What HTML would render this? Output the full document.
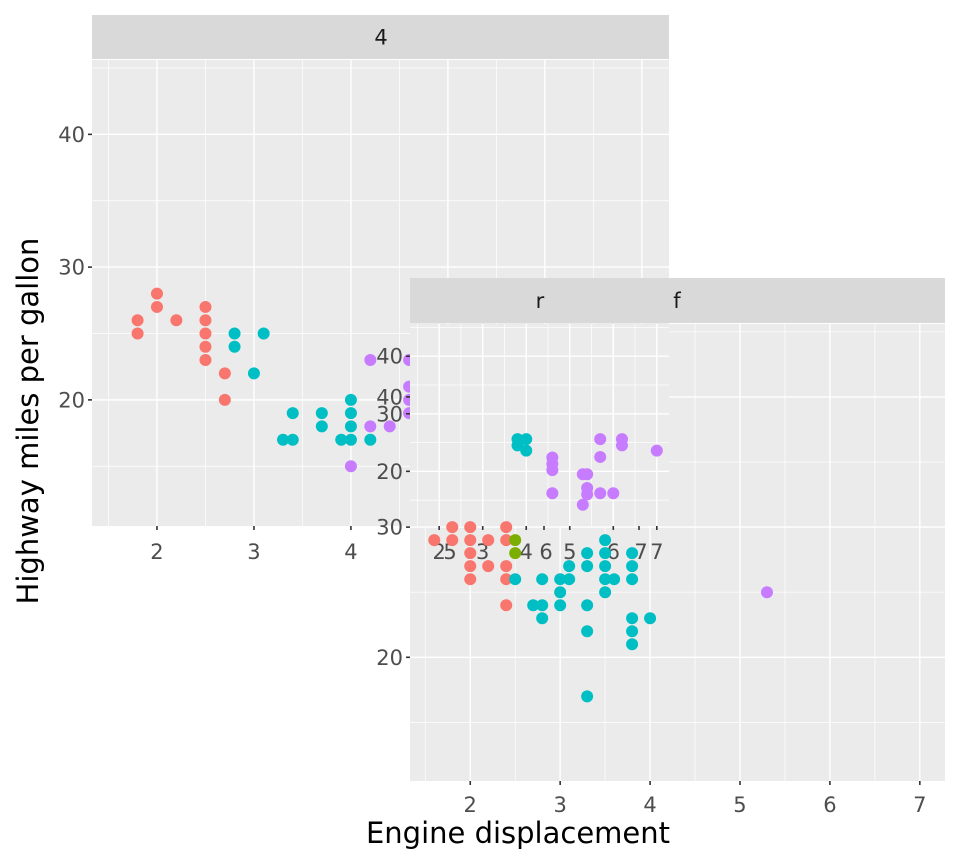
<!DOCTYPE html>
<html><head><meta charset="utf-8"><style>
html,body{margin:0;padding:0;background:#fff;}
svg{display:block;font-family:"DejaVu Sans","Liberation Sans",sans-serif;}
</style></head><body>
<svg id="chart" width="960" height="865" viewBox="0 0 960 865"></svg>
<script>
// ---- data ----
const colors = {r:"#F8766D", g:"#7CAE00", c:"#00BFC4", p:"#C77CFF"};
// panel "4"
const panel4Disp = [1.8,1.8,2.0,2.0,2.2,2.5,2.5,2.5,2.5,2.5,2.7,2.7, 2.8,2.8,3.1,3.0,3.4,3.3,3.4,3.7,3.7,3.9,4.0,4.0,4.0,4.0,4.2, 4.2,4.0,4.2,4.4,4.6,4.6,4.6,4.6];
const panel4Hwy  = [26,25,28,27,26,27,26,25,24,23,22,20, 25,24,25,22,19,17,17,19,18,17,20,19,18,17,17, 23,15,18,18,23,21,20,19];
const panel4Cls  = ["r","r","r","r","r","r","r","r","r","r","r","r","c","c","c","c","c","c","c","c","c","c","c","c","c","c","c","p","p","p","p","p","p","p","p"];
// panel "r"
const panelRDisp = [3.8,4.0,3.8,4.0, 4.6,4.6,4.6,4.6,5.3,5.4,5.4,5.4,5.3,5.7,5.7,5.7,6.0,6.2,6.2,7.0];
const panelRHwy  = [25.6,25.6,24.5,23.6, 22.4,21.3,20.2,16.2,19.5,19.5,17.1,16,14.2,25.6,22.5,16.2,16.2,25.6,24.5,23.6];
const panelRCls  = ["c","c","c","c","p","p","p","p","p","p","p","p","p","p","p","p","p","p","p","p"];
// panel "f"
const panelFDisp = [1.6,1.8,1.8,2.0,2.0,2.0,2.0,2.0,2.2,2.2,2.4,2.4,2.4,2.4,2.4, 2.5,2.5,
  2.5,2.8,2.7,2.8,2.8,3.0,3.1,3.0,3.0,3.1,3.3,3.3,3.3,3.3,3.3,3.5,3.5,3.5,3.5,3.5,3.6,3.8,3.8,3.8,3.8,3.8,3.8,4.0, 5.3];
const panelFHwy  = [29,29,30,30,29,28,27,26,29,27,30,29,27,26,24, 29,28,
  26,26,24,24,23,26,26,25,24,27,28,27,24,22,17,29,28,27,26,25,26,28,27,26,23,22,21,23, 25];
const panelFCls  = ["r","r","r","r","r","r","r","r","r","r","r","r","r","r","r","g","g",
  "c","c","c","c","c","c","c","c","c","c","c","c","c","c","c","c","c","c","c","c","c","c","c","c","c","c","c","c","p"];
const xTicks = [2,3,4,5,6,7];
const xMinor = [1.5,2.5,3.5,4.5,5.5,6.5];
const yTicks = [20,30,40];
const yMinor = [15,25,35,45];
const xDomain = [1.33,7.28], yDomain = [10.5,45.6];

const NS="http://www.w3.org/2000/svg";
const svg=document.getElementById('chart');
function mk(tag,attrs,parent,text){const e=document.createElementNS(NS,tag);for(const k in attrs)e.setAttribute(k,attrs[k]);if(text!==undefined)e.textContent=text;(parent||svg).appendChild(e);return e;}

function panelBg(name,x0,y0,x1,y1,withGrid){
  const g=mk('g',{});
  
  
  mk('rect',{x:x0,y:y0,width:x1-x0,height:y1-y0,fill:'#ebebeb'},g);
  const sx=v=>x0+(v-xDomain[0])/(xDomain[1]-xDomain[0])*(x1-x0);
  const sy=v=>y1-(v-yDomain[0])/(yDomain[1]-yDomain[0])*(y1-y0);
  if(withGrid){
    xMinor.forEach(v=>mk('line',{x1:sx(v),x2:sx(v),y1:y0,y2:y1,stroke:'#fff','stroke-width':0.7},g));
    yMinor.forEach(v=>{const y=sy(v);if(y>y0&&y<y1)mk('line',{x1:x0,x2:x1,y1:y,y2:y,stroke:'#fff','stroke-width':0.7},g);});
    xTicks.forEach(v=>mk('line',{x1:sx(v),x2:sx(v),y1:y0,y2:y1,stroke:'#fff','stroke-width':1.4},g));
    yTicks.forEach(v=>mk('line',{x1:x0,x2:x1,y1:sy(v),y2:sy(v),stroke:'#fff','stroke-width':1.4},g));
  }
  return {sx,sy};
}
function points(name,s,xs,ys,cls){
  const g=mk('g',{});
  
  
  xs.forEach((v,i)=>{const c=mk('circle',{cx:s.sx(v),cy:s.sy(ys[i]),r:6,fill:colors[cls[i]]},g);
    
    });
}
function axes(name,s,x0,y0,x1,y1,xoff){
  const g=mk('g',{});
  
  
  yTicks.forEach(v=>{const y=s.sy(v);
    mk('line',{x1:x0-4,x2:x0,y1:y,y2:y,stroke:'#333','stroke-width':1.6},g);
    mk('text',{x:x0-7,y:y+7.5,'text-anchor':'end','font-size':21,fill:'#4d4d4d'},g,String(v));});
  xTicks.forEach(v=>{const x=s.sx(v);
    mk('line',{x1:x,x2:x,y1:y1,y2:y1+4,stroke:'#333','stroke-width':1.6},g);
    mk('text',{x:x,y:y1+xoff,'text-anchor':'middle','font-size':21,fill:'#4d4d4d'},g,String(v));});
}
function strip(name,x0,y0,x1,y1,label,lx){
  const g=mk('g',{});
  
  
  mk('rect',{x:x0,y:y0,width:x1-x0,height:y1-y0,fill:'#d9d9d9'},g);
  mk('text',{x:lx,y:(y0+y1)/2+7.5,'text-anchor':'middle','font-size':21,fill:'#1a1a1a'},g,label);
}

// panel 4
strip('facet-4',92,15,669,59,'4',381);
const s4=panelBg('facet-4',92,60,669,526,true);
points('facet-4',s4,panel4Disp,panel4Hwy,panel4Cls);
axes('facet-4',s4,92,60,669,526,33);
// panel f
strip('facet-f',410,278,945,323,'',677);
const sf=panelBg('facet-f',410,324,945,781,true);
axes('facet-f',sf,410,324,945,781,31);
// panel r
const sr=panelBg('facet-r',410,324,669,526,true);
points('facet-r',sr,panelRDisp,panelRHwy,panelRCls);
axes('facet-r',sr,410,324,669,526,33);
// extra overlapping tick labels
[[450,'5'],[546,'6'],[641,'7']].forEach(a=>{
  mk('line',{x1:a[0]-2,x2:a[0]-2,y1:526,y2:530,stroke:'#333','stroke-width':1.6});
  const t=mk('text',{x:a[0],y:559,'text-anchor':'middle','font-size':21,fill:'#4d4d4d'},svg,a[1]);
  
  });
// strip labels on top
const tr=mk('text',{x:540,y:308,'text-anchor':'middle','font-size':21,fill:'#1a1a1a'},svg,'r');


const tf=mk('text',{x:677,y:308,'text-anchor':'middle','font-size':21,fill:'#1a1a1a'},svg,'f');


points('facet-f',sf,panelFDisp,panelFHwy,panelFCls);
// titles
const xt=mk('text',{x:518,y:843,'text-anchor':'middle','font-size':29,fill:'#000'},svg,'Engine displacement');


const yt=mk('text',{x:0,y:0,'text-anchor':'middle','font-size':29,fill:'#000',transform:'translate(38,421) rotate(-90)'},svg,'Highway miles per gallon');


</script>
</body></html>
